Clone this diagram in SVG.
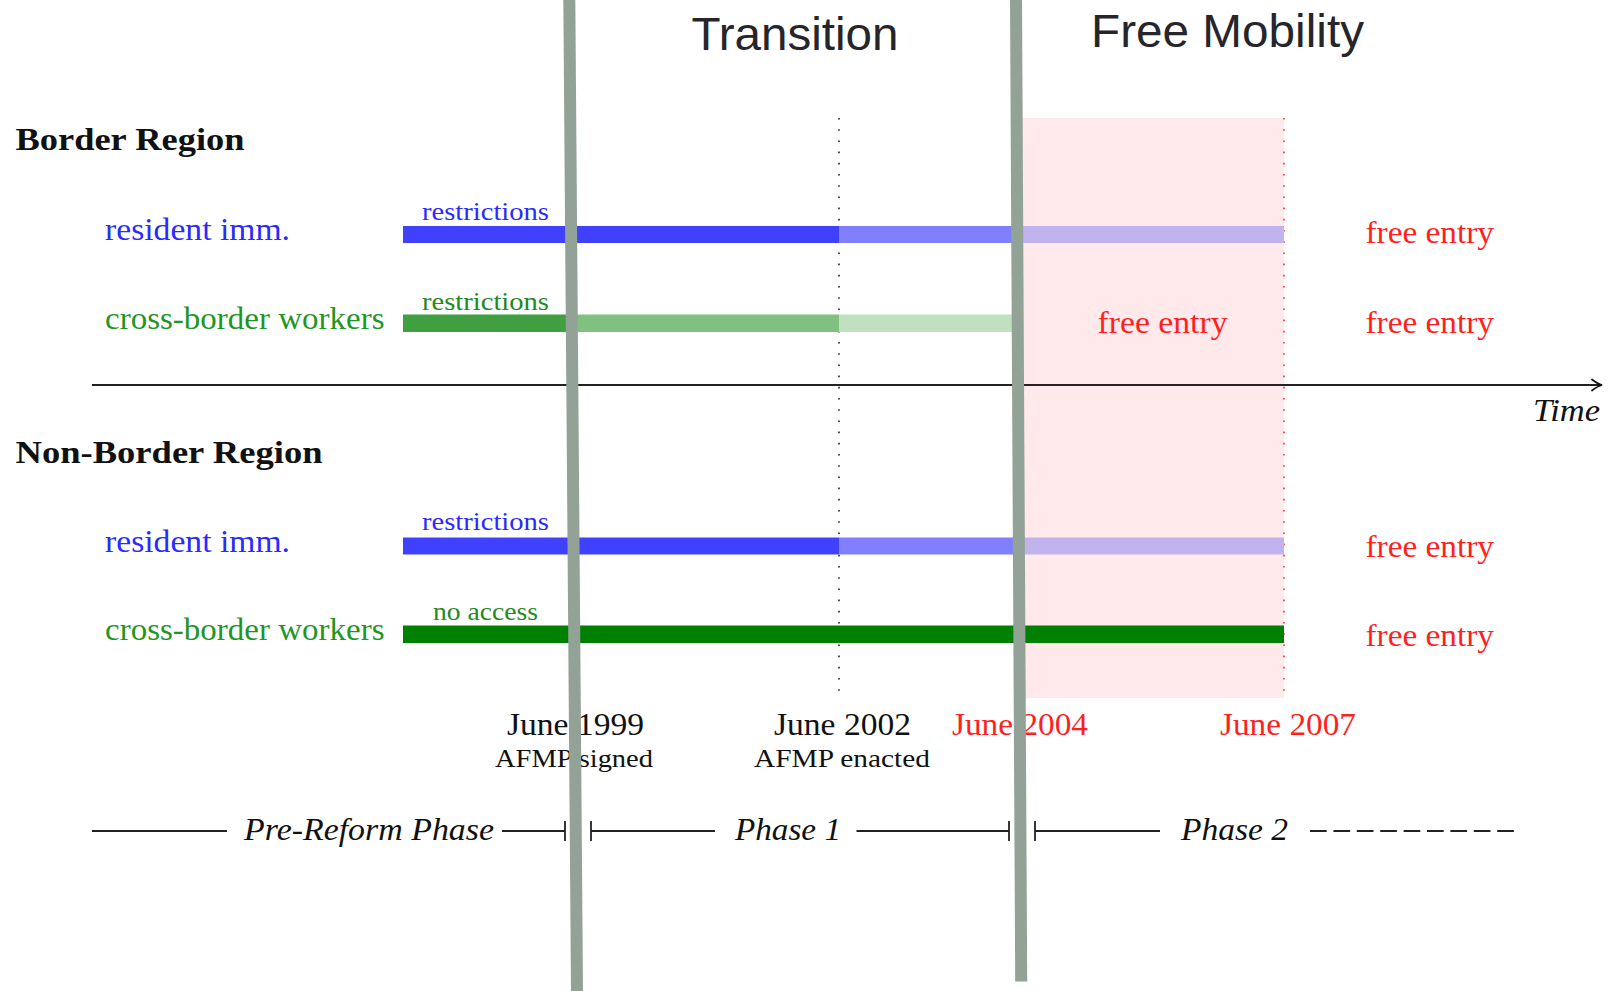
<svg xmlns="http://www.w3.org/2000/svg" width="1616" height="991" viewBox="0 0 1616 991">
  <style>
    .serif { font-family: "Liberation Serif", "Times New Roman", serif; }
    .big { font-size: 31px; }
    .small { font-size: 26px; }
    .head { font-size: 31px; font-weight: bold; fill: #111; }
    .blue { fill: #2a2aff; }
    .green { fill: #1f961f; }
    .sgreen { fill: #1f8a1f; }
    .red { fill: #ff1f1f; }
    .blk { fill: #111; }
    .it { font-style: italic; }
    .title { font-family: "Liberation Sans", Arial, sans-serif; font-size: 47px; fill: #25252b; }
    .ln { stroke: #222; stroke-width: 1.8; fill: none; }
    .divider { stroke: #93a297; stroke-width: 12; stroke-linecap: butt; }
  </style>
  <defs>
    <marker id="arr" viewBox="-12 -7 14 14" markerWidth="14" markerHeight="14" refX="0" refY="0" orient="auto" markerUnits="userSpaceOnUse">
      <path d="M -10 -5.5 Q -4 -1 0 0 Q -4 1 -10 5.5" fill="none" stroke="#111" stroke-width="1.8" stroke-linecap="round"/>
    </marker>
  </defs>
  <rect width="1616" height="991" fill="#fff"/>

  <!-- Free mobility shaded zone -->
  <rect id="free-zone" x="1015" y="118" width="269" height="580" fill="#ffe9ea"/>

  <!-- guide lines -->
  <g id="guides">
    <line x1="839" y1="118" x2="839" y2="698" stroke="#222" stroke-width="1.6" stroke-dasharray="1.6 9.6"/>
    <line x1="1284" y1="118" x2="1284" y2="698" stroke="#ff2a2a" stroke-width="1.6" stroke-dasharray="1.6 9.6"/>
  </g>

  <!-- titles -->
  <g id="titles">
    <text class="title" x="691.5" y="49.5" textLength="207" lengthAdjust="spacingAndGlyphs">Transition</text>
    <text class="title" x="1091" y="46.5" textLength="273" lengthAdjust="spacingAndGlyphs">Free Mobility</text>
  </g>

  <!-- Border region -->
  <g id="border-region">
    <text class="serif head" x="15.5" y="150" textLength="229" lengthAdjust="spacingAndGlyphs">Border Region</text>
    <g id="br-resident">
      <text class="serif big blue" x="105" y="240" textLength="185" lengthAdjust="spacingAndGlyphs">resident imm.</text>
      <text class="serif small blue" x="422" y="220" textLength="127" lengthAdjust="spacingAndGlyphs">restrictions</text>
      <rect x="403" y="226" width="436" height="17" fill="#4040ff"/>
      <rect x="839" y="226" width="178" height="17" fill="#8080ff"/>
      <rect x="1017" y="226" width="267" height="17" fill="#c0b3ee"/>
      <text class="serif big red" x="1365.5" y="243" textLength="128.5" lengthAdjust="spacingAndGlyphs">free entry</text>
    </g>
    <g id="br-cross">
      <text class="serif big green" x="105" y="328.5" textLength="279.5" lengthAdjust="spacingAndGlyphs">cross-border workers</text>
      <text class="serif small sgreen" x="422" y="310" textLength="127" lengthAdjust="spacingAndGlyphs">restrictions</text>
      <rect x="403" y="314.5" width="168" height="17.5" fill="#409f40"/>
      <rect x="571" y="314.5" width="268" height="17.5" fill="#80c080"/>
      <rect x="839" y="314.5" width="175" height="17.5" fill="#c0e0c0"/>
      <text class="serif big red" x="1097.5" y="333" textLength="130" lengthAdjust="spacingAndGlyphs">free entry</text>
      <text class="serif big red" x="1365.5" y="333" textLength="128.5" lengthAdjust="spacingAndGlyphs">free entry</text>
    </g>
  </g>

  <!-- Time axis -->
  <g id="axis">
    <line class="ln" x1="92" y1="385" x2="1602" y2="385" marker-end="url(#arr)"/>
    <text class="serif big blk it" x="1533" y="421" textLength="67" lengthAdjust="spacingAndGlyphs">Time</text>
  </g>

  <!-- Non-border region -->
  <g id="nonborder-region">
    <text class="serif head" x="15.5" y="463" textLength="307" lengthAdjust="spacingAndGlyphs">Non-Border Region</text>
    <g id="nb-resident">
      <text class="serif big blue" x="105" y="551.5" textLength="185" lengthAdjust="spacingAndGlyphs">resident imm.</text>
      <text class="serif small blue" x="422" y="530" textLength="127" lengthAdjust="spacingAndGlyphs">restrictions</text>
      <rect x="403" y="537.5" width="436" height="17" fill="#4040ff"/>
      <rect x="839" y="537.5" width="178" height="17" fill="#8080ff"/>
      <rect x="1017" y="537.5" width="267" height="17" fill="#c0b3ee"/>
      <text class="serif big red" x="1365.5" y="557" textLength="128.5" lengthAdjust="spacingAndGlyphs">free entry</text>
    </g>
    <g id="nb-cross">
      <text class="serif big green" x="105" y="640" textLength="279.5" lengthAdjust="spacingAndGlyphs">cross-border workers</text>
      <text class="serif small sgreen" x="433" y="620" textLength="105" lengthAdjust="spacingAndGlyphs">no access</text>
      <rect x="403" y="625.5" width="881" height="17.5" fill="#008000"/>
      <text class="serif big red" x="1365.5" y="646" textLength="128.5" lengthAdjust="spacingAndGlyphs">free entry</text>
    </g>
  </g>

  <!-- dates -->
  <g id="dates">
    <g id="d1999">
      <text class="serif big blk" x="507" y="735" textLength="137" lengthAdjust="spacingAndGlyphs">June 1999</text>
      <text class="serif small blk" x="495" y="767" textLength="158" lengthAdjust="spacingAndGlyphs">AFMP signed</text>
    </g>
    <g id="d2002">
      <text class="serif big blk" x="774" y="735" textLength="137" lengthAdjust="spacingAndGlyphs">June 2002</text>
      <text class="serif small blk" x="754" y="767" textLength="176" lengthAdjust="spacingAndGlyphs">AFMP enacted</text>
    </g>
    <text id="d2004" class="serif big red" x="952" y="735" textLength="136" lengthAdjust="spacingAndGlyphs">June 2004</text>
    <text id="d2007" class="serif big red" x="1220" y="735" textLength="136" lengthAdjust="spacingAndGlyphs">June 2007</text>
  </g>

  <!-- phases -->
  <g id="phases">
    <g class="ln">
      <line x1="92" y1="831" x2="227" y2="831"/>
      <line x1="502" y1="831" x2="565" y2="831"/>
      <line x1="565" y1="821" x2="565" y2="841"/>
      <line x1="591" y1="821" x2="591" y2="841"/>
      <line x1="591" y1="831" x2="715" y2="831"/>
      <line x1="856.5" y1="831" x2="1009" y2="831"/>
      <line x1="1009" y1="821" x2="1009" y2="841"/>
      <line x1="1035" y1="821" x2="1035" y2="841"/>
      <line x1="1035" y1="831" x2="1160" y2="831"/>
      <line x1="1310" y1="831" x2="1517" y2="831" stroke-dasharray="16.7 6.7"/>
    </g>
    <text class="serif big blk it" x="244" y="840" textLength="250" lengthAdjust="spacingAndGlyphs">Pre-Reform Phase</text>
    <text class="serif big blk it" x="735" y="840" textLength="106" lengthAdjust="spacingAndGlyphs">Phase 1</text>
    <text class="serif big blk it" x="1181" y="840" textLength="107" lengthAdjust="spacingAndGlyphs">Phase 2</text>
  </g>

  <!-- dividers -->
  <g id="dividers">
    <line class="divider" x1="569.3" y1="-2" x2="577" y2="993"/>
    <line class="divider" x1="1016" y1="-2" x2="1021.2" y2="981.5"/>
  </g>
</svg>
